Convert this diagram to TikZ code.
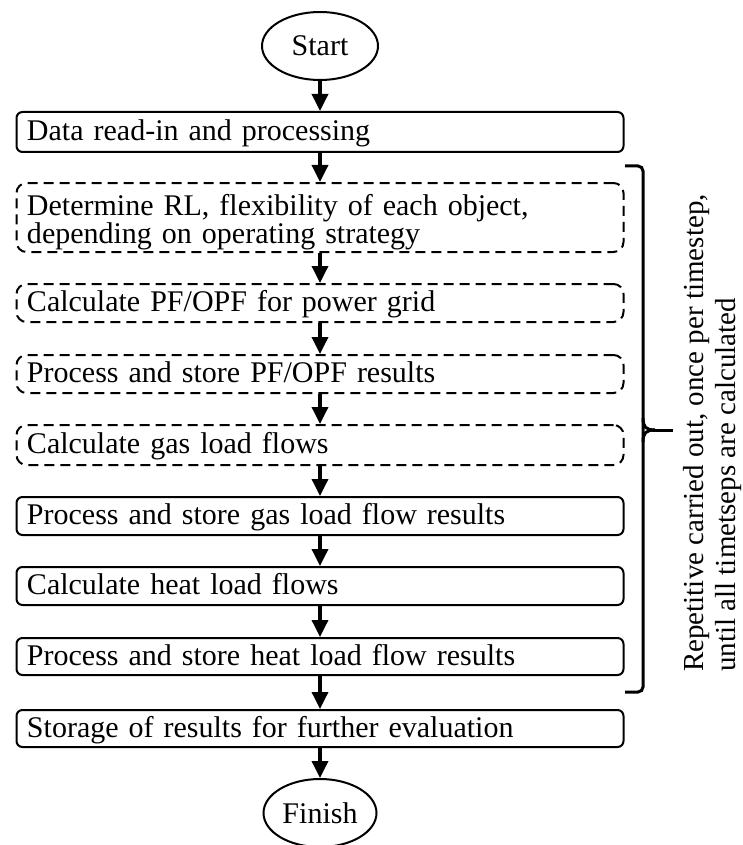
\documentclass[tikz,border=0pt]{standalone}
\usepackage{fontspec}
\setmainfont{Liberation Serif}
\usetikzlibrary{shapes.geometric,arrows.meta}
\begin{document}
\begin{tikzpicture}[x=1pt,y=-1pt,
  every node/.style={font=\fontsize{30}{27}\selectfont},
  procbox/.style={draw, line width=2pt, rounded corners=6pt, minimum width=607pt,
    text width=586pt, inner xsep=10.5pt, inner ysep=0pt, align=left,
    text height=22pt, text depth=5pt},
  dashbox/.style={procbox, rounded corners=10pt, dash pattern=on 10pt off 6pt},
  term/.style={draw, ellipse, line width=2pt, minimum width=116pt, minimum height=68pt, inner sep=0pt},
  flow/.style={-{Triangle[length=17pt,width=16pt]}, line width=3.5pt},
  brace/.style={line width=3pt}
]
\useasboundingbox (0,0) rectangle (743,845);
\node[term] (start) at (320,46) {Start};
\node[procbox, minimum height=40pt] (data) at (320,132) {Data read-in and processing};
\node[dashbox, minimum height=69pt, text depth=27pt] (rl) at (320,217.5) {Determine RL, flexibility of each object,\\ depending on operating strategy};
\node[dashbox, minimum height=38pt] (pf) at (320,303) {Calculate PF/OPF for power grid};
\node[dashbox, minimum height=38pt] (ppf) at (320,374) {Process and store PF/OPF results};
\node[dashbox, minimum height=40pt] (gas) at (320,445) {Calculate gas load flows};
\node[procbox, minimum height=38pt] (pgas) at (320,516) {Process and store gas load flow results};
\node[procbox, minimum height=38pt] (heat) at (320,586) {Calculate heat load flows};
\node[procbox, minimum height=37pt] (pheat) at (320,656.5) {Process and store heat load flow results};
\node[procbox, minimum height=37pt] (store) at (320,728.5) {Storage of results for further evaluation};
\node[term, minimum width=113pt] (finish) at (320,813) {Finish};

\draw[flow] (start) -- (data);
\draw[flow] (data) -- (rl);
\draw[flow] (rl) -- (pf);
\draw[flow] (pf) -- (ppf);
\draw[flow] (ppf) -- (gas);
\draw[flow] (gas) -- (pgas);
\draw[flow] (pgas) -- (heat);
\draw[flow] (heat) -- (pheat);
\draw[flow] (pheat) -- (store);
\draw[flow] (store) -- (finish);

\coordinate (bt) at (625,166);
\coordinate (bb) at (625,692);
\coordinate (bm) at (673,430);
\draw[brace, rounded corners=5pt] (bt) -- (643,166) -- (643,692) -- (bb);
\draw[brace] (643,418) .. controls (643,427) and (646,430) .. (655,430);
\draw[brace] (643,442) .. controls (643,433) and (646,430) .. (655,430);
\draw[brace] (652,430) -- (bm);

\node[rotate=90, anchor=base west, align=left, inner sep=0pt,
  font=\fontsize{29}{32}\selectfont] (note) at (735,672)
  {Repetitive carried out, once per timestep,\\ until all timetseps are calculated};
\end{tikzpicture}
\end{document}
